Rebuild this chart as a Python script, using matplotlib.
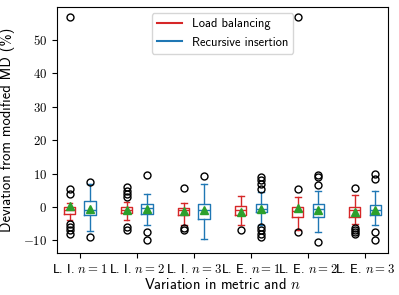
import numpy as np
import matplotlib
matplotlib.use("Agg")
import matplotlib.pyplot as plt

plt.rcParams["font.family"] = ["cmss10", "DejaVu Sans"]
plt.rcParams["mathtext.fontset"] = "cm"
plt.rcParams["axes.unicode_minus"] = False
plt.rcParams["axes.formatter.use_mathtext"] = True

labels = ["L. I. $n=1$", "L. I. $n=2$", "L. I. $n=3$",
          "L. E. $n=1$", "L. E. $n=2$", "L. E. $n=3$"]

# load balancing (red) box stats per group
lb_med = [-1.0, -1.0, -1.0, -1.0, -1.2, -0.8]
lb_q1 = [-2.0, -1.8, -2.3, -2.5, -3.0, -3.0]
lb_q3 = [0.0, 0.0, -0.2, 0.2, 0.0, 0.0]
lb_lo = [-4.0, -3.8, -5.5, -5.5, -6.8, -5.0]
lb_hi = [1.2, 1.5, 1.3, 3.2, 3.0, 3.5]
lb_mean = [0.2, -1.0, -1.2, -1.5, -0.2, -1.5]
lb_fliers = [
    [56.8, 5.5, 4.0, -5.0, -6.0, -7.0, -8.0],
    [6.0, 4.8, 3.8, 3.0, -6.0, -7.0],
    [5.7, -6.3, -6.8],
    [-6.8],
    [56.8, 5.5, -7.5],
    [5.8, -6.2, -6.8, -7.5, -8.2],
]

# recursive insertion (blue) box stats per group
ri_med = [-0.8, -0.2, -0.8, -0.5, -0.5, -1.0]
ri_q1 = [-2.5, -2.0, -3.7, -1.5, -3.0, -2.5]
ri_q3 = [1.8, 1.0, 1.0, 1.0, 1.0, 0.7]
ri_lo = [-7.3, -5.5, -9.6, -5.5, -7.5, -5.5]
ri_hi = [7.0, 4.0, 7.0, 4.5, 4.8, 4.8]
ri_mean = [-0.5, -0.5, -0.8, -0.5, -1.0, -1.0]
ri_fliers = [
    [7.5, -9.0],
    [9.5, -7.5, -10.0],
    [9.3],
    [9.0, 8.0, 7.0, 5.5, -6.0, -7.0, -8.0, -9.0],
    [9.5, 9.0, 6.5, -10.5],
    [9.8, 8.5, -7.5, -10.0],
]


def stats(med, q1, q3, lo, hi, mean, fl):
    out = []
    for i in range(len(med)):
        out.append(dict(med=med[i], q1=q1[i], q3=q3[i], whislo=lo[i],
                        whishi=hi[i], mean=mean[i], fliers=fl[i]))
    return out


fig = plt.figure(figsize=(3.99, 2.95), dpi=100)
ax = fig.add_axes([0.143, 0.142, 0.829, 0.834])

pos = np.arange(1, len(labels) + 1)
off = 0.18
flier = dict(marker="o", markerfacecolor="none", markeredgecolor="black",
             markersize=5)
mean = dict(marker="^", markerfacecolor="C2", markeredgecolor="C2",
            markersize=6)

for st, p, c in [(stats(lb_med, lb_q1, lb_q3, lb_lo, lb_hi, lb_mean, lb_fliers), pos - off, "tab:red"),
                 (stats(ri_med, ri_q1, ri_q3, ri_lo, ri_hi, ri_mean, ri_fliers), pos + off, "tab:blue")]:
    ax.bxp(st, positions=p, widths=0.2, showmeans=True,
           boxprops=dict(color=c), whiskerprops=dict(color=c),
           capprops=dict(color=c), medianprops=dict(color=c),
           flierprops=flier, meanprops=mean, manage_ticks=False)

ax.set_xticks(pos)
ax.set_xticklabels(labels, fontsize=9.2)
ax.set_xlim(0.6, 6.4)
ax.set_ylim(-13.8, 59.8)
ax.set_yticks([-10, 0, 10, 20, 30, 40, 50])
ax.set_yticklabels(["$-10$", "$0$", "$10$", "$20$", "$30$", "$40$", "$50$"],
                   fontsize=9.2)
ax.set_xlabel("Variation in metric and $n$", fontsize=10.5, labelpad=1)
ax.set_ylabel("Deviation from modified MD (%)", fontsize=10.5, labelpad=6)

ax.plot([], [], color="tab:red", label="Load balancing")
ax.plot([], [], color="tab:blue", label="Recursive insertion")
ax.legend(loc="upper center", fontsize=9)

fig.savefig("out.png", dpi=100)
